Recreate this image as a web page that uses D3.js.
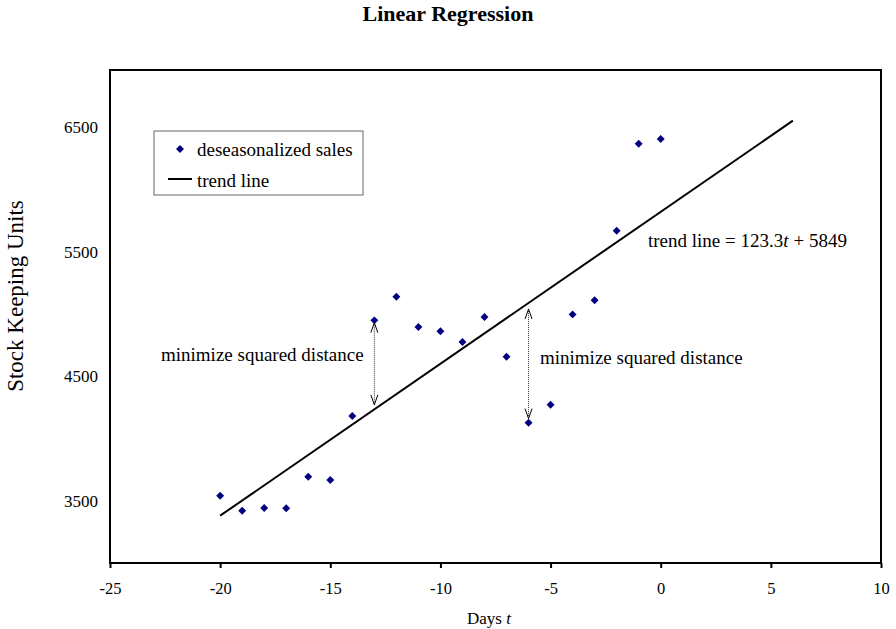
<!DOCTYPE html>
<html><head><meta charset="utf-8">
<script src="https://cdn.jsdelivr.net/npm/d3@7"></script>
<style>body{margin:0;background:#fff}</style>
</head><body>
<script>
const days = [-20,-19,-18,-17,-16,-15,-14,-13,-12,-11,-10,-9,-8,-7,-6,-5,-4,-3,-2,-1,0];
const sales = [3540,3420,3442,3440,3693,3667,4181,4949,5139,4896,4861,4775,4976,4657,4127,4271,4997,5110,5669,6368,6406];
const trendT = [-20, 6];
const trendV = [3380, 6553];
const xTicks = [-25,-20,-15,-10,-5,0,5,10];
const yTicks = [3500,4500,5500,6500];
const arrows = [{t:-13, from:4930, to:4270},{t:-6, from:5040, to:4160}];

const FONT="Liberation Serif, Times New Roman, serif";
const W=896,H=629;
const svg=d3.select("body").append("svg").attr("width",W).attr("height",H).attr("font-family",FONT);
const L=110,R=881,T=70,B=563;
const x=d3.scaleLinear().domain([-25,10]).range([L,R]);
const y=d3.scaleLinear().domain([3000,6960]).range([B,T]);

function txt(sel){return sel.append("text").attr("font-family",FONT).attr("fill","#000");}

txt(svg).attr("x",448).attr("y",21).attr("text-anchor","middle")
  .attr("font-weight","bold").attr("font-size",22).text("Linear Regression");

// x axis
const xa=svg.append("g").attr("transform",`translate(0,${B})`)
  .call(d3.axisBottom(x).tickValues(xTicks).tickSize(5).tickSizeOuter(0).tickFormat(d=>String(d)));
xa.attr("font-family",FONT);
xa.select(".domain").remove();
xa.selectAll("line").attr("stroke","#000").attr("stroke-width",2);
xa.selectAll("text").attr("font-size",16.5).attr("font-family",FONT).attr("y",25).attr("dy","0.35em").attr("fill","#000");

// y axis labels
const ya=svg.append("g").attr("transform",`translate(${L},0)`)
  .call(d3.axisLeft(y).tickValues(yTicks).tickSize(0).tickFormat(d=>String(d)));
ya.attr("font-family",FONT);
ya.select(".domain").remove();
ya.selectAll("text").attr("font-size",17).attr("font-family",FONT).attr("x",-12).attr("fill","#000");

// frame
svg.append("rect").attr("x",L).attr("y",T).attr("width",R-L).attr("height",B-T)
  .attr("fill","none").attr("stroke","#000").attr("stroke-width",2);

// trend line
svg.append("path").datum(trendT.map((t,i)=>[t,trendV[i]]))
  .attr("d",d3.line().x(d=>x(d[0])).y(d=>y(d[1])))
  .attr("stroke","#000").attr("stroke-width",2).attr("fill","none");

// points
const diamond=d3.symbol().type(d3.symbolDiamond2).size(40);
svg.append("g").selectAll("path").data(days.map((d,i)=>[d,sales[i]])).join("path")
  .attr("d",diamond).attr("transform",d=>`translate(${x(d[0])},${y(d[1])})`).attr("fill","#000080");

// arrows
arrows.forEach(a=>{
  const xx=x(a.t), y1=y(a.from), y2=y(a.to);
  svg.append("line").attr("x1",xx).attr("x2",xx).attr("y1",y1).attr("y2",y2)
    .attr("stroke","#333").attr("stroke-width",1).attr("stroke-dasharray","1,1");
  const hw=3.5, hl=10;
  svg.append("path").attr("d",`M${xx-hw},${y1+hl}L${xx},${y1}L${xx+hw},${y1+hl}`).attr("stroke","#000").attr("fill","none").attr("stroke-width",1);
  svg.append("path").attr("d",`M${xx-hw},${y2-hl}L${xx},${y2}L${xx+hw},${y2-hl}`).attr("stroke","#000").attr("fill","none").attr("stroke-width",1);
});

txt(svg).attr("x",161).attr("y",361).attr("font-size",19).text("minimize squared distance");
txt(svg).attr("x",540).attr("y",364).attr("font-size",19).text("minimize squared distance");
const eq=txt(svg).attr("x",648).attr("y",247).attr("font-size",19);
eq.append("tspan").text("trend line = 123.3");
eq.append("tspan").attr("font-style","italic").text("t");
eq.append("tspan").attr("dx",5).text("+ 5849");

// legend
const lg=svg.append("g");
lg.append("rect").attr("x",154).attr("y",131).attr("width",209).attr("height",64)
  .attr("fill","#fff").attr("stroke","#666").attr("stroke-width",1);
lg.append("path").attr("d",diamond).attr("transform","translate(180,149)").attr("fill","#000080");
txt(lg).attr("x",197).attr("y",149).attr("dy","0.35em").attr("font-size",19).text("deseasonalized sales");
lg.append("line").attr("x1",168).attr("x2",192).attr("y1",179).attr("y2",179).attr("stroke","#000").attr("stroke-width",2);
txt(lg).attr("x",197).attr("y",180).attr("dy","0.35em").attr("font-size",19).text("trend line");

// axis titles
txt(svg).attr("transform","translate(15,296) rotate(-90)").attr("text-anchor","middle")
  .attr("dy","0.35em").attr("font-size",23).text("Stock Keeping Units");
const xt=txt(svg).attr("x",489).attr("y",624).attr("text-anchor","middle").attr("font-size",17);
xt.append("tspan").text("Days ");
xt.append("tspan").attr("font-style","italic").text("t");
</script>
</body></html>
